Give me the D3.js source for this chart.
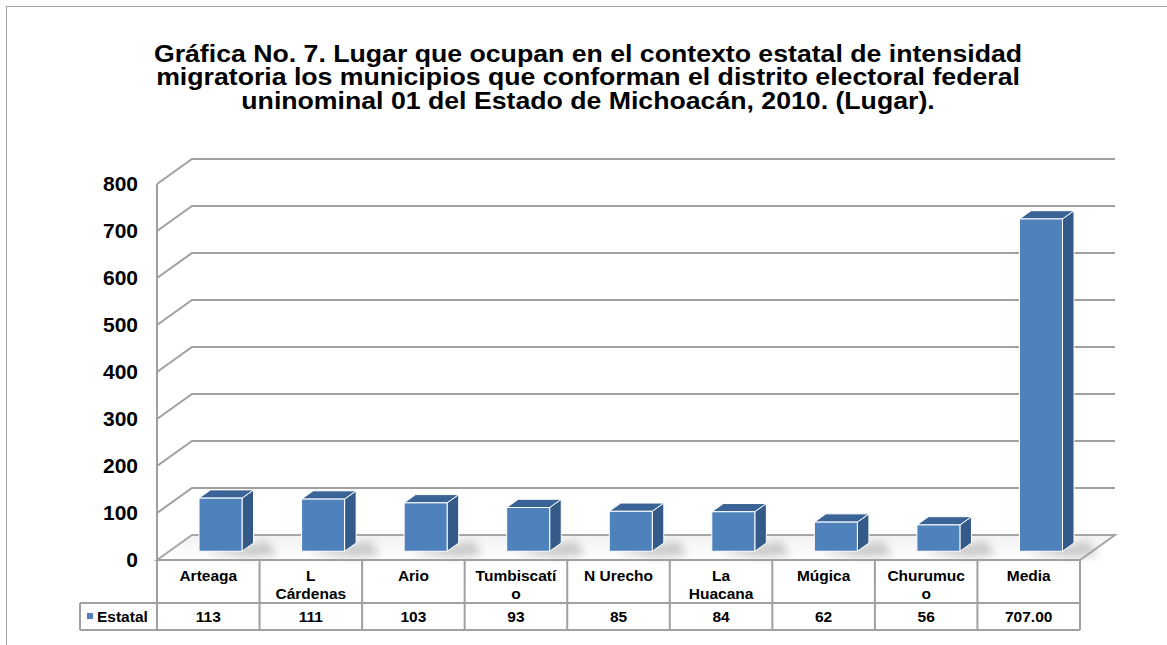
<!DOCTYPE html>
<html>
<head>
<meta charset="utf-8">
<script src="https://cdn.jsdelivr.net/npm/d3@7"></script>
<style>
  body { margin: 0; background: #fff; }
  svg { display: block; font-family: "Liberation Sans", Arial, sans-serif; }
</style>
</head>
<body>
<div id="chart"></div>
<script>
const titleLines = [
    'Gráfica No. 7. Lugar que ocupan en el contexto estatal de intensidad',
    'migratoria los municipios que conforman el distrito electoral federal',
    'uninominal 01 del Estado de Michoacán, 2010. (Lugar).'
];
const categories = [['Arteaga'], ['L', 'Cárdenas'], ['Ario'], ['Tumbiscatí', 'o'], ['N Urecho'],
    ['La', 'Huacana'], ['Múgica'], ['Churumuc', 'o'], ['Media']];
const values = [113, 111, 103, 93, 85, 84, 62, 56, 707];
const valueLabels = ['113', '111', '103', '93', '85', '84', '62', '56', '707.00'];
const seriesName = 'Estatal';

const width = 1167, height = 645;
const left = 157, right = 1080, floorY = 560, topY = 184;
const depth = { x: 35, y: -25 };

const svg = d3.select('#chart').append('svg')
    .attr('width', width)
    .attr('height', height);

const defs = svg.append('defs');
const floorGrad = defs.append('linearGradient').attr('id', 'floorGrad')
    .attr('x1', 0).attr('y1', 0).attr('x2', 0).attr('y2', 1);
floorGrad.append('stop').attr('offset', '0%').attr('stop-color', '#f2f2f2');
floorGrad.append('stop').attr('offset', '100%').attr('stop-color', '#ffffff');
defs.append('filter').attr('id', 'blur')
    .attr('x', '-50%').attr('y', '-50%').attr('width', '200%').attr('height', '200%')
    .append('feGaussianBlur').attr('stdDeviation', 4);

// outer frame
svg.append('rect')
    .attr('x', 6.5).attr('y', 6.5)
    .attr('width', 1300).attr('height', 800)
    .attr('fill', 'none').attr('stroke', '#a0a0a0').attr('stroke-width', 1);

// title (slightly wide, as in the original)
const titleX = 588;
svg.append('text')
    .attr('transform', `translate(${titleX},62) scale(1.16,1)`)
    .attr('text-anchor', 'middle')
    .attr('font-size', 23).attr('font-weight', 'bold').attr('fill', '#000')
    .selectAll('tspan').data(titleLines).enter().append('tspan')
    .attr('x', 0).attr('dy', (d, i) => i === 0 ? 0 : 23.5)
    .text(d => d);

const x = d3.scaleBand().domain(d3.range(categories.length)).range([left, right]);
const y = d3.scaleLinear().domain([0, 800]).range([floorY, topY]);
const ticks = y.ticks(8);

// floor
const floorPts = [[left, floorY], [left + depth.x, floorY + depth.y],
    [right + depth.x, floorY + depth.y], [right, floorY]];
svg.append('polygon')
    .attr('points', floorPts.map(p => p.join(',')).join(' '))
    .attr('fill', 'url(#floorGrad)')
    .attr('stroke', '#a6a6a6').attr('stroke-width', 2);

// back wall gridlines and side wall lines
const grid = svg.append('g').attr('stroke', '#a0a0a0').attr('stroke-width', 2).attr('fill', 'none');
grid.selectAll('.gl').data(ticks.filter(t => t > 0)).enter().append('polyline')
    .attr('points', d => `${left},${y(d)} ${left + depth.x},${y(d) + depth.y} ${right + depth.x},${y(d) + depth.y}`);
grid.append('line')
    .attr('x1', left).attr('y1', y(800)).attr('x2', left).attr('y2', floorY);

// y labels
svg.append('g')
    .attr('transform', `translate(${left - 4},0)`)
    .call(d3.axisLeft(y).tickValues(ticks).tickSize(0).tickPadding(15))
    .call(g => g.select('.domain').remove())
    .selectAll('text')
    .attr('font-family', '"Liberation Sans", Arial, sans-serif')
    .attr('font-size', 21).attr('font-weight', 'bold').attr('fill', '#000');

// bars
const t0 = 0.35, t1 = 0.68;
const barW = 43;
const bars = svg.append('g');
categories.forEach((c, i) => {
    const cx = x(i) + x.bandwidth() / 2 + depth.x * t0;
    const base = floorY + depth.y * t0;
    const h = floorY - y(values[i]);
    const top = base - h;
    const x0 = cx - barW / 2, x1 = cx + barW / 2;
    const dx = depth.x * (t1 - t0), dy = depth.y * (t1 - t0);

    // shadow on floor
    bars.append('polygon')
        .attr('points', `${x0 + 6},${base + 2} ${x1 + dx + 14},${base + dy - 2} ${x1 + dx + 24},${base + 4} ${x1 + 8},${base + 6}`)
        .attr('fill', '#9a9a9a').attr('opacity', 0.5).attr('filter', 'url(#blur)');

    // side
    bars.append('polygon')
        .attr('points', `${x1},${top} ${x1 + dx},${top + dy} ${x1 + dx},${base + dy} ${x1},${base}`)
        .attr('fill', '#335a89').attr('stroke', '#fff').attr('stroke-width', 1);
    // top
    bars.append('polygon')
        .attr('points', `${x0},${top} ${x0 + dx},${top + dy} ${x1 + dx},${top + dy} ${x1},${top}`)
        .attr('fill', '#3b6496').attr('stroke', '#fff').attr('stroke-width', 1);
    // front
    bars.append('rect')
        .attr('x', x0).attr('y', top).attr('width', barW).attr('height', h)
        .attr('fill', '#4f81bd').attr('stroke', '#fff').attr('stroke-width', 1);
});

// data table
const rowTop = 560, rowMid = 603, rowBot = 630, legendLeft = 80;
const table = svg.append('g').attr('stroke', '#a0a0a0').attr('stroke-width', 2).attr('fill', 'none');
table.append('line').attr('x1', left).attr('y1', rowTop).attr('x2', right).attr('y2', rowTop);
table.append('line').attr('x1', legendLeft).attr('y1', rowMid).attr('x2', right).attr('y2', rowMid);
table.append('line').attr('x1', legendLeft).attr('y1', rowBot).attr('x2', right).attr('y2', rowBot);
table.append('line').attr('x1', legendLeft).attr('y1', rowMid).attr('x2', legendLeft).attr('y2', rowBot);
table.selectAll('.vl').data(d3.range(categories.length + 1)).enter().append('line')
    .attr('x1', d => d < categories.length ? x(d) : right).attr('y1', rowTop)
    .attr('x2', d => d < categories.length ? x(d) : right).attr('y2', rowBot);

const cellText = svg.append('g')
    .attr('font-size', 15.5).attr('font-weight', 'bold').attr('fill', '#000')
    .attr('text-anchor', 'middle');
categories.forEach((c, i) => {
    const cx = x(i) + x.bandwidth() / 2;
    cellText.append('text').attr('y', 581)
        .selectAll('tspan').data(c).enter().append('tspan')
        .attr('x', cx).attr('dy', (d, k) => k === 0 ? 0 : 17.5)
        .text(d => d);
    cellText.append('text').attr('x', cx).attr('y', 622).text(valueLabels[i]);
});

// legend key
svg.append('rect').attr('x', 87).attr('y', 613).attr('width', 6).attr('height', 6).attr('fill', '#4f81bd');
svg.append('text').attr('x', 97).attr('y', 622)
    .attr('font-size', 15.5).attr('font-weight', 'bold').attr('fill', '#000')
    .text(seriesName);
</script>
</body>
</html>
